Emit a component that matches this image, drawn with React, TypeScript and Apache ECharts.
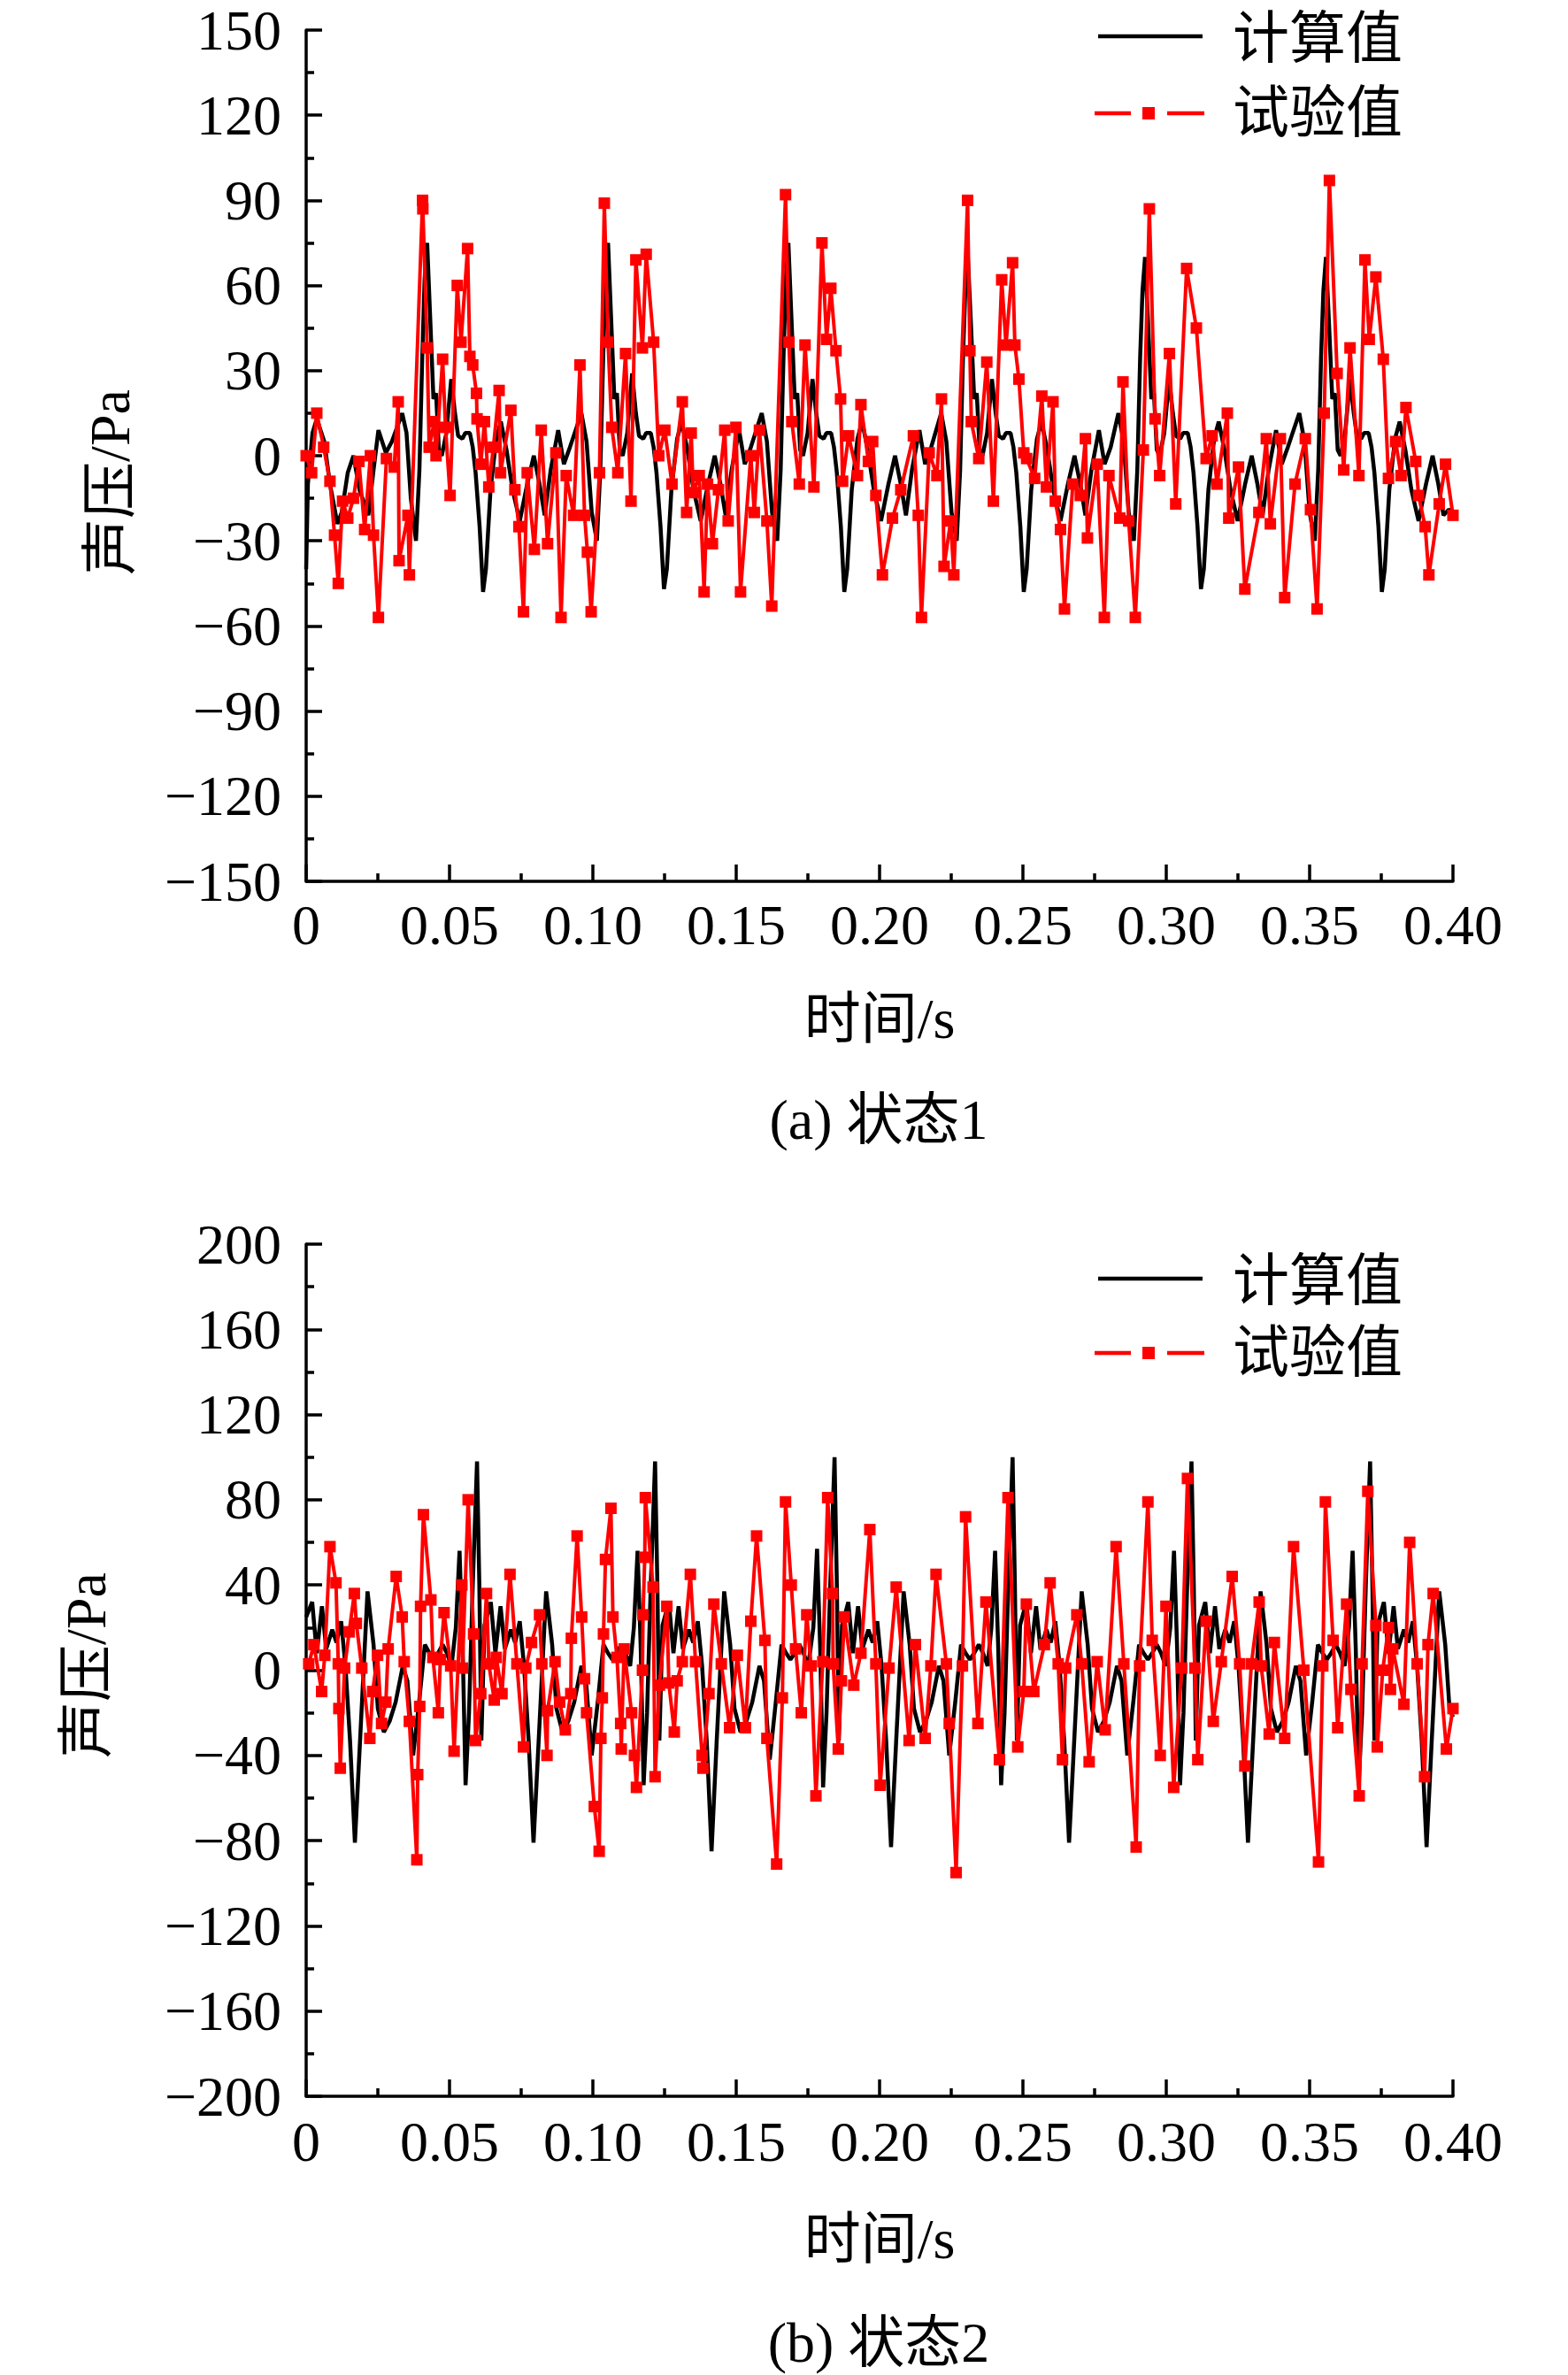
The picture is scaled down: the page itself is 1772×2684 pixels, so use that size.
import React, { useEffect, useRef } from 'react';
import * as echarts from 'echarts';

// 时间 (s) / 声压 (Pa) pairs
const calcA: [number, number][] = [
  [0, -40], [0.0006, -10], [0.0022, 8], [0.0037, 13], [0.0063, 5], [0.0083, -10], [0.0109, -24], [0.0124, -20], [0.0145, -6], [0.0165, 0], [0.0186, -12], [0.0217, -21], [0.0235, -5], [0.0252, 9], [0.0278, 1], [0.0299, 5], [0.0335, 15], [0.035, 8], [0.0365, -15], [0.0383, -30], [0.0395, -5], [0.0405, 35], [0.0413, 62],
  [0.0422, 75], [0.0432, 50], [0.0444, 20], [0.0453, 22], [0.0463, 2], [0.0473, 0], [0.0489, 8], [0.0506, 27], [0.0519, 15], [0.053, 7], [0.0545, 6], [0.0555, 8], [0.0571, 8], [0.0581, 3], [0.0591, -6], [0.0605, -25], [0.0617, -48], [0.0627, -40], [0.0643, -12], [0.0663, 6], [0.0679, 12], [0.0699, 2], [0.072, -12], [0.0745, -23], [0.0771, -10], [0.0794, 0], [0.0814, -10], [0.0832, -21], [0.0853, -5], [0.0879, 9], [0.0899, -3], [0.092, 3], [0.096, 15], [0.0978, 5], [0.0996, -20], [0.1014, -30], [0.1026, -5], [0.1036, 35], [0.1044, 62],
  [0.1053, 75], [0.1063, 50], [0.1075, 20], [0.1084, 22], [0.1094, 2], [0.1104, 0], [0.112, 8], [0.1137, 29], [0.115, 15], [0.1161, 7], [0.1176, 6], [0.1186, 8], [0.1202, 8], [0.1212, 3], [0.1222, -6], [0.1236, -25], [0.1248, -47], [0.1258, -40], [0.1274, -12], [0.1294, 6], [0.131, 12], [0.133, 2], [0.1351, -12], [0.1376, -23], [0.1402, -10], [0.1425, 0], [0.1445, -10], [0.1463, -21], [0.1484, -5], [0.151, 9], [0.153, -3], [0.1551, 3], [0.1589, 15], [0.1607, 5], [0.1625, -20], [0.1643, -30], [0.1655, -5], [0.1665, 35], [0.1673, 62],
  [0.1682, 75], [0.1692, 50], [0.1704, 20], [0.1713, 22], [0.1723, 2], [0.1733, 0], [0.1749, 8], [0.1766, 27], [0.1779, 15], [0.179, 7], [0.1805, 6], [0.1815, 8], [0.1831, 8], [0.1841, 3], [0.1851, -6], [0.1865, -25], [0.1877, -48], [0.1887, -40], [0.1903, -12], [0.1923, 6], [0.1939, 12], [0.1959, 2], [0.198, -12], [0.2005, -23], [0.2031, -10], [0.2054, 0], [0.2074, -10], [0.2092, -21], [0.2113, -5], [0.2139, 9], [0.2159, -3], [0.218, 3], [0.2215, 15], [0.2233, 5], [0.2251, -20], [0.2269, -30], [0.2281, -5], [0.2291, 35], [0.2299, 58],
  [0.2308, 70], [0.2318, 48], [0.233, 20], [0.2339, 22], [0.2349, 2], [0.2359, 0], [0.2375, 8], [0.2392, 27], [0.2405, 15], [0.2416, 7], [0.2431, 6], [0.2441, 8], [0.2457, 8], [0.2467, 3], [0.2477, -6], [0.2491, -25], [0.2503, -48], [0.2513, -40], [0.2529, -12], [0.2549, 6], [0.2565, 12], [0.2585, 2], [0.2606, -12], [0.2631, -23], [0.2657, -10], [0.268, 0], [0.27, -10], [0.2718, -21], [0.2739, -5], [0.2765, 9], [0.2785, -3], [0.2806, 3], [0.2833, 15], [0.2851, 5], [0.2869, -20], [0.2887, -30], [0.2899, -5], [0.2909, 35], [0.2917, 58],
  [0.2926, 70], [0.2936, 48], [0.2948, 20], [0.2957, 22], [0.2967, 2], [0.2977, 0], [0.2993, 8], [0.301, 27], [0.3023, 15], [0.3034, 7], [0.3049, 6], [0.3059, 8], [0.3075, 8], [0.3085, 3], [0.3095, -6], [0.3109, -25], [0.3121, -47], [0.3131, -40], [0.3147, -12], [0.3167, 6], [0.3183, 12], [0.3203, 2], [0.3224, -12], [0.3249, -23], [0.3275, -10], [0.3298, 0], [0.3318, -10], [0.3336, -21], [0.3357, -5], [0.3383, 9], [0.3403, -3], [0.3424, 3], [0.3464, 15], [0.3482, 5], [0.35, -20], [0.3518, -30], [0.353, -5], [0.354, 35], [0.3548, 58],
  [0.3557, 70], [0.3567, 48], [0.3579, 20], [0.3588, 22], [0.3598, 2], [0.3608, 0], [0.3624, 8], [0.3641, 27], [0.3654, 15], [0.3665, 7], [0.368, 6], [0.369, 8], [0.3706, 8], [0.3716, 3], [0.3726, -6], [0.374, -25], [0.3752, -48], [0.3762, -40], [0.3778, -12], [0.3798, 6], [0.3814, 12], [0.3834, 2], [0.3855, -12], [0.388, -23], [0.3906, -10], [0.3929, 0], [0.3949, -10], [0.3967, -21], [0.3985, -19], [0.4, -20],
];

const testA: [number, number][] = [
  [0, 0], [0.0019, -6], [0.0037, 15], [0.0061, 3], [0.0083, -9], [0.0099, -28], [0.0112, -45], [0.0127, -16], [0.0145, -22], [0.0165, -15], [0.0184, -2], [0.0204, -26], [0.0224, 0], [0.0235, -28], [0.0252, -57], [0.028, -1], [0.0307, -4], [0.0321, 19], [0.0324, -37], [0.0355, -21], [0.036, -42],
  [0.0406, 90], [0.0407, 87], [0.0422, 38], [0.0429, 3], [0.0447, 12], [0.0453, 0], [0.0476, 34], [0.0486, 10], [0.0502, -14], [0.0527, 60], [0.054, 40], [0.0563, 73], [0.0571, 35], [0.0581, 32], [0.0594, 22], [0.0596, 13], [0.0609, -3], [0.0622, 12], [0.0637, -11], [0.0653, 3], [0.0673, 23], [0.0678, -6], [0.0714, 16], [0.0728, -12], [0.0742, -25], [0.0758, -55], [0.0771, -6], [0.0796, -33], [0.082, 9], [0.0842, -31], [0.0871, 1], [0.0889, -57], [0.0907, -7], [0.0933, -21], [0.0955, 32], [0.0971, -21], [0.0981, -34], [0.0994, -55],
  [0.1023, -6], [0.104, 89], [0.1053, 40], [0.1066, 10], [0.1087, -6], [0.1114, 36], [0.1133, -16], [0.115, 69], [0.1173, 38], [0.1186, 71], [0.1212, 40], [0.123, 0], [0.1251, 9], [0.1276, -10], [0.1312, 19], [0.1327, -20], [0.1343, 8], [0.135, -13], [0.1371, -7], [0.1388, -48], [0.14, -10], [0.1417, -31], [0.1438, -12], [0.146, 9], [0.1472, -23], [0.1499, 10], [0.1515, -48], [0.1551, 0], [0.1563, -20], [0.1581, 9], [0.1607, -23], [0.1624, -53],
  [0.1672, 92], [0.1684, 40], [0.1694, 12], [0.172, -10], [0.174, 39], [0.1771, -11], [0.1799, 75], [0.1815, 41], [0.183, 59], [0.1848, 37], [0.1864, 20], [0.1871, -9], [0.1892, 7], [0.1923, -7], [0.1935, 18], [0.1961, -2], [0.1976, 5], [0.1987, -14], [0.201, -42], [0.2045, -22], [0.2074, -12], [0.2118, 7], [0.2135, -21], [0.2146, -57], [0.2173, 1], [0.22, -7], [0.2216, 20], [0.2225, -39], [0.2248, -23], [0.2259, -42],
  [0.2307, 90], [0.2315, 37], [0.232, 12], [0.2346, -1], [0.2374, 33], [0.2397, -16], [0.2426, 62], [0.2441, 39], [0.2464, 68], [0.2472, 39], [0.2486, 27], [0.2503, 1], [0.2513, -1], [0.2541, -8], [0.2566, 21], [0.2582, -11], [0.2605, 19], [0.2613, -16], [0.2631, -26], [0.2645, -54], [0.2674, -10], [0.27, -14], [0.2718, 6], [0.2725, -29], [0.2759, -3], [0.2784, -57], [0.28, -7], [0.2838, -22], [0.2849, 26], [0.2869, -23], [0.2892, -57], [0.292, 2],
  [0.2941, 87], [0.2961, 13], [0.2977, -7], [0.3011, 36], [0.3033, -17], [0.3071, 66], [0.3105, 45], [0.3139, -1], [0.316, 7], [0.3177, -10], [0.3213, 15], [0.3218, -22], [0.3252, -4], [0.3274, -47], [0.3323, -20], [0.3349, 6], [0.3363, -24], [0.3398, 6], [0.3413, -50], [0.3449, -10], [0.3485, 6], [0.3503, -19], [0.3526, -54], [0.3551, 15],
  [0.3569, 97], [0.3596, 29], [0.3619, -5], [0.3641, 38], [0.3672, -7], [0.3693, 69], [0.3708, 41], [0.3731, 63], [0.3757, 34], [0.3775, -8], [0.38, 5], [0.3819, -7], [0.3836, 17], [0.387, -2], [0.388, -14], [0.3903, -25], [0.3916, -42], [0.3952, -17], [0.3974, -3], [0.4, -21],
];

const calcB: [number, number][] = [
  [0, 25], [0.0021, 32], [0.0037, 8], [0.0055, 30], [0.007, 10], [0.0091, 19], [0.0106, 13], [0.0122, 23], [0.0137, 2], [0.0153, -33], [0.017, -81], [0.0188, -33], [0.0204, 10], [0.0214, 37], [0.0235, 12], [0.025, -18], [0.0271, -29], [0.0291, -24], [0.0312, -15], [0.0337, 2], [0.0353, -5], [0.0373, -40], [0.0394, -15], [0.0414, 12], [0.043, 8], [0.0445, 5], [0.046, 8], [0.0476, 12], [0.0491, 8], [0.0507, 2], [0.0522, 20], [0.0535, 56], [0.0546, 10], [0.0556, -54], [0.0568, -20], [0.0581, 40],
  [0.0596, 98], [0.0604, 40], [0.0611, -33], [0.0622, 21], [0.0644, 32], [0.066, 8], [0.0678, 30], [0.0693, 10], [0.0714, 19], [0.0729, 13], [0.0745, 23], [0.076, 2], [0.0776, -33], [0.0793, -81], [0.0811, -33], [0.0827, 10], [0.0837, 37], [0.0858, 12], [0.0873, -18], [0.0894, -29], [0.0914, -24], [0.0935, -15], [0.096, 2], [0.0976, -5], [0.0996, -40], [0.1017, -15], [0.1037, 12], [0.1053, 8], [0.1068, 5], [0.1083, 8], [0.1099, 12], [0.1114, 8], [0.113, 2], [0.1143, 20], [0.1156, 56], [0.1167, 10], [0.1177, -54], [0.1189, -20], [0.1202, 40],
  [0.1217, 98], [0.1225, 40], [0.1232, -33], [0.1243, 21], [0.1265, 32], [0.1281, 8], [0.1299, 30], [0.1314, 10], [0.1335, 19], [0.135, 13], [0.1366, 23], [0.1381, 2], [0.1397, -33], [0.1414, -85], [0.1432, -33], [0.1448, 10], [0.1458, 37], [0.1479, 12], [0.1494, -18], [0.1515, -29], [0.1535, -24], [0.1556, -15], [0.1581, 2], [0.1597, -5], [0.1617, -42], [0.1638, -15], [0.1658, 12], [0.1674, 8], [0.1689, 5], [0.1704, 8], [0.172, 12], [0.1735, 8], [0.1751, 2], [0.1769, 20], [0.1782, 57], [0.1793, 10], [0.1803, -55], [0.1815, -20], [0.1828, 40],
  [0.1843, 100], [0.1851, 40], [0.1858, -33], [0.1869, 21], [0.1891, 32], [0.1907, 8], [0.1925, 30], [0.194, 10], [0.1961, 19], [0.1976, 13], [0.1992, 23], [0.2007, 2], [0.2023, -33], [0.204, -83], [0.2058, -33], [0.2074, 10], [0.2084, 37], [0.2105, 12], [0.212, -18], [0.2141, -29], [0.2161, -24], [0.2182, -15], [0.2207, 2], [0.2223, -5], [0.2243, -40], [0.2264, -15], [0.2284, 12], [0.23, 8], [0.2315, 5], [0.233, 8], [0.2346, 12], [0.2361, 8], [0.2377, 2], [0.239, 20], [0.2403, 56], [0.2414, 10], [0.2424, -54], [0.2436, -20], [0.2449, 40],
  [0.2464, 100], [0.2472, 40], [0.2479, -33], [0.249, 21], [0.2512, 32], [0.2528, 8], [0.2546, 30], [0.2561, 10], [0.2582, 19], [0.2597, 13], [0.2613, 23], [0.2628, 2], [0.2644, -33], [0.2661, -81], [0.2679, -33], [0.2695, 10], [0.2705, 37], [0.2726, 12], [0.2741, -18], [0.2762, -29], [0.2782, -24], [0.2803, -15], [0.2828, 2], [0.2844, -5], [0.2864, -40], [0.2885, -15], [0.2905, 12], [0.2921, 8], [0.2936, 5], [0.2951, 8], [0.2967, 12], [0.2982, 8], [0.2998, 2], [0.3014, 20], [0.3027, 56], [0.3038, 10], [0.3048, -54], [0.306, -20], [0.3073, 40],
  [0.3088, 98], [0.3096, 40], [0.3103, -33], [0.3114, 21], [0.3136, 32], [0.3152, 8], [0.317, 30], [0.3185, 10], [0.3206, 19], [0.3221, 13], [0.3237, 23], [0.3252, 2], [0.3268, -33], [0.3285, -81], [0.3303, -33], [0.3319, 10], [0.3329, 37], [0.335, 12], [0.3365, -18], [0.3386, -29], [0.3406, -24], [0.3427, -15], [0.3452, 2], [0.3468, -5], [0.3488, -40], [0.3509, -15], [0.3529, 12], [0.3545, 8], [0.356, 5], [0.3575, 8], [0.3591, 12], [0.3606, 8], [0.3622, 2], [0.3637, 20], [0.365, 56], [0.3661, 10], [0.3671, -54], [0.3683, -20], [0.3696, 40],
  [0.3711, 98], [0.3719, 40], [0.3726, -33], [0.3737, 21], [0.3759, 32], [0.3775, 8], [0.3793, 30], [0.3808, 10], [0.3829, 19], [0.3844, 13], [0.386, 23], [0.3875, 2], [0.3891, -33], [0.3908, -83], [0.3926, -33], [0.3942, 10], [0.3952, 37], [0.3973, 12], [0.3988, -18], [0.4, -22],
];

const testB: [number, number][] = [
  [0.0009, 3], [0.0027, 12], [0.0054, -10], [0.0065, 7], [0.0083, 58], [0.0104, 41], [0.0112, 3], [0.0114, -18], [0.0119, -46], [0.0134, 1], [0.015, 18], [0.0168, 36], [0.0175, 22], [0.0194, 1], [0.0222, -32], [0.0232, -10], [0.0249, 7], [0.0263, -25], [0.0278, -15], [0.0286, 10], [0.0314, 44], [0.0335, 25], [0.0342, 4], [0.036, -24], [0.0386, -89], [0.0389, -49], [0.0396, -17], [0.0399, 30], [0.0409, 73], [0.0435, 33], [0.0442, 6], [0.0461, -20], [0.0468, 5], [0.0481, 27], [0.0504, 2], [0.0516, -38], [0.0543, 40], [0.0545, 1], [0.0565, 80], [0.0584, 17], [0.0591, -33], [0.0609, -11], [0.0629, 36], [0.0637, 3], [0.0656, -14], [0.0663, 6], [0.0683, -11], [0.0711, 45], [0.0735, 3], [0.0758, -36], [0.0766, 1], [0.0786, 13], [0.0814, 26], [0.0822, 3], [0.084, -40], [0.0842, -19], [0.0868, 4], [0.0884, -15], [0.0904, -28], [0.0923, -11], [0.0925, 15], [0.0945, 63], [0.0961, 25], [0.0971, -4], [0.0978, -20],
  [0.1005, -64], [0.1022, -85], [0.1028, -32], [0.1033, -13], [0.1037, 17], [0.1044, 52], [0.1063, 76], [0.107, 25], [0.1084, 6], [0.1097, -25], [0.1099, -37], [0.1109, 10], [0.1135, -20], [0.1145, -40], [0.1152, -55], [0.1173, 0], [0.1175, 26], [0.1181, 53], [0.1183, 81], [0.121, 39], [0.1217, -50], [0.1232, -7], [0.1258, 30], [0.1265, -6], [0.1284, -29], [0.1294, -5], [0.1312, 4], [0.134, 45], [0.1358, 4], [0.1381, -40], [0.1384, -46], [0.1405, -11], [0.1422, 31], [0.1448, 3], [0.1477, -27], [0.1504, 7], [0.1532, -27], [0.1551, 23], [0.1571, 63], [0.16, 14], [0.1607, -32], [0.1641, -91], [0.1661, -13], [0.1672, 79], [0.1692, 40], [0.1707, 10], [0.1727, -20], [0.1746, 26], [0.1761, 2], [0.1778, -59], [0.1802, 4], [0.1819, 81], [0.1836, 36], [0.1838, 3], [0.1856, -37], [0.1867, -5], [0.1877, 25], [0.191, -7], [0.1935, 8], [0.1966, 66], [0.1987, 3],
  [0.2002, -54], [0.2033, 1], [0.2058, 39], [0.2103, -33], [0.2125, 12], [0.2159, -32], [0.2179, 2], [0.2197, 45], [0.2233, 3], [0.2243, -25], [0.2267, -95], [0.2289, 2], [0.23, 72], [0.2343, -25], [0.2371, 32], [0.2418, -42], [0.2448, 81], [0.2482, -36], [0.2503, -10], [0.2512, 31], [0.2538, -10], [0.2575, 12], [0.2595, 41], [0.2623, 3], [0.2638, -42], [0.2649, 1], [0.2688, 26], [0.2705, 3], [0.2731, -43], [0.2759, 4], [0.2787, -28], [0.2825, 58], [0.2852, 3], [0.2895, -83], [0.2907, 2], [0.2936, 79], [0.2951, 14], [0.2979, -40], [0.2999, 30],
  [0.3026, -55], [0.3054, 1], [0.3074, 90], [0.31, 1], [0.311, -42], [0.3139, 23], [0.3164, -24], [0.3192, 4], [0.323, 44], [0.3256, 3], [0.3274, -45], [0.3297, 3], [0.3324, 32], [0.3331, 2], [0.3359, -30], [0.3377, 13], [0.3413, -32], [0.3444, 58], [0.348, 0], [0.3531, -90], [0.3546, 2], [0.3555, 79], [0.3582, 14], [0.3598, -27], [0.3629, 31], [0.3644, -9], [0.3673, -59], [0.3683, 3], [0.3703, 84], [0.3731, 21], [0.3736, -36], [0.3755, 0], [0.3775, 20], [0.3782, -9], [0.379, 10], [0.3829, -16], [0.3849, 60], [0.3875, 3], [0.3901, -50], [0.3913, 12], [0.3931, 36], [0.3977, -37], [0.4, -18],
];

const timeTicks = { min: 0, max: 0.4, interval: 0.05 };
const rangeA = { min: -150, max: 150, interval: 30 };
const rangeB = { min: -200, max: 200, interval: 40 };

const FONT = "'Liberation Serif', 'Times New Roman', 'Noto Sans CJK SC', serif";

const App: React.FC = () => {
  const chartRef = useRef<HTMLDivElement | null>(null);

  useEffect(() => {
    document.body.style.margin = '0';
    const chart = echarts.init(chartRef.current!, null, { renderer: 'svg' });

    const black = '#000';
    const red = '#ff0000';

    const xAxisOf = (gridIndex: number, margin: number) => ({
      gridIndex,
      type: 'value' as const,
      ...timeTicks,
      axisLine: { show: true, onZero: false, lineStyle: { color: black, width: 3.5 } },
      axisTick: { show: true, inside: true, length: 19, lineStyle: { color: black, width: 3.5 } },
      minorTick: { show: true, splitNumber: 2, length: 9, lineStyle: { color: black, width: 3.5 } },
      splitLine: { show: false },
      axisLabel: {
        color: black,
        fontFamily: FONT,
        fontSize: 64,
        lineHeight: 50,
        margin,
        formatter: (v: number) => (v === 0 ? '0' : v.toFixed(2)),
      },
    });

    const yAxisOf = (gridIndex: number, range: { min: number; max: number; interval: number }) => ({
      gridIndex,
      type: 'value' as const,
      ...range,
      axisLine: { show: true, onZero: false, lineStyle: { color: black, width: 3.5 } },
      axisTick: { show: true, inside: true, length: 18, lineStyle: { color: black, width: 3.5 } },
      minorTick: { show: true, splitNumber: 2, length: 9, lineStyle: { color: black, width: 3.5 } },
      splitLine: { show: false },
      axisLabel: {
        color: black,
        fontFamily: FONT,
        fontSize: 64,
        lineHeight: 50,
        margin: 28,
        formatter: (v: number) => (v < 0 ? '\u2212' + Math.abs(v) : String(v)),
      },
    });

    const text = (t: string, x: number, y: number, extra: any = {}) => ({
      type: 'text',
      x,
      y,
      ...extra,
      style: {
        text: t,
        fill: black,
        fontFamily: FONT,
        fontSize: 64,
        textAlign: extra.align || 'center',
        textVerticalAlign: 'middle',
      },
    });

    const legend = (yCalc: number, yTest: number) => [
      { type: 'line', shape: { x1: 1241, y1: yCalc, x2: 1359, y2: yCalc }, style: { stroke: black, lineWidth: 4.5 } },
      text('计算值', 1393, yCalc + 2, { align: 'left' }),
      { type: 'line', shape: { x1: 1237, y1: yTest, x2: 1278, y2: yTest }, style: { stroke: red, lineWidth: 4.5 } },
      { type: 'rect', shape: { x: 1291, y: yTest - 7, width: 14, height: 14 }, style: { fill: red } },
      { type: 'line', shape: { x1: 1319, y1: yTest, x2: 1361, y2: yTest }, style: { stroke: red, lineWidth: 4.5 } },
      text('试验值', 1393, yTest - 1, { align: 'left' }),
    ];

    const calcSeries = (i: number, data: [number, number][]) => ({
      type: 'line' as const,
      name: '计算值',
      xAxisIndex: i,
      yAxisIndex: i,
      data,
      symbol: 'none',
      lineStyle: { color: black, width: 4.5 },
      z: 2,
    });

    const testSeries = (i: number, data: [number, number][]) => ({
      type: 'line' as const,
      name: '试验值',
      xAxisIndex: i,
      yAxisIndex: i,
      data,
      symbol: 'rect',
      symbolSize: 13,
      itemStyle: { color: red },
      lineStyle: { color: red, width: 4 },
      z: 3,
    });

    const option: any = {
      animation: false,
      backgroundColor: '#fff',
      grid: [
        { left: 346, top: 34, width: 1296, height: 962 },
        { left: 346, top: 1406, width: 1296, height: 963 },
      ],
      xAxis: [xAxisOf(0, 24), xAxisOf(1, 26)],
      yAxis: [yAxisOf(0, rangeA), yAxisOf(1, rangeB)],
      series: [calcSeries(0, calcA), testSeries(0, testA), calcSeries(1, calcB), testSeries(1, testB)],
      graphic: [
        ...legend(41, 128),
        ...legend(1445, 1529),
        text('时间/s', 994, 1151),
        text('(a) 状态1', 993, 1265),
        text('时间/s', 994, 2530),
        text('(b) 状态2', 993, 2647),
        text('声压/Pa', 124, 545, { rotation: Math.PI / 2 }),
        text('声压/Pa', 97, 1882, { rotation: Math.PI / 2 }),
      ],
    };

    chart.setOption(option);

    return () => {
      chart.dispose();
    };
  }, []);

  return <div ref={chartRef} style={{ width: '1772px', height: '2684px' }} />;
};

export default App;
